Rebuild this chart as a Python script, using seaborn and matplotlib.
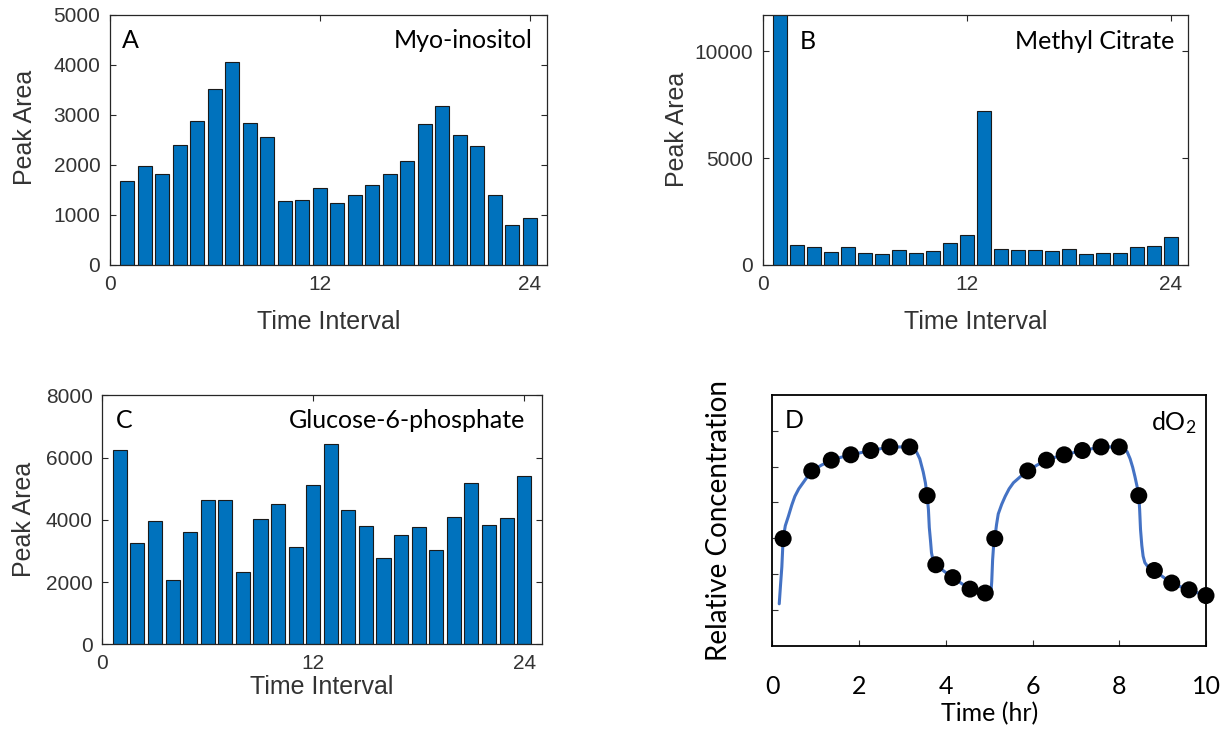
import numpy as np
import pandas as pd
import matplotlib
matplotlib.use("Agg")
import matplotlib.pyplot as plt
import seaborn as sns

sns.set_theme(style="white")
plt.rcParams['font.family'] = ['Liberation Sans', 'DejaVu Sans']
plt.rcParams['mathtext.fontset'] = 'custom'
plt.rcParams['mathtext.rm'] = 'Lato'
plt.rcParams['mathtext.default'] = 'rm'

# ---------------- data ----------------
intervals = list(range(1, 25))
myo_inositol = [1690, 1990, 1830, 2400, 2890, 3520, 4070, 2850, 2560, 1290,
                1310, 1550, 1240, 1400, 1600, 1820, 2090, 2830, 3180, 2600,
                2390, 1400, 810, 950]
methyl_citrate = [15000, 930, 855, 610, 820, 575, 530, 685, 575, 640,
                  1040, 1400, 7200, 760, 685, 685, 640, 760, 500, 575,
                  575, 855, 900, 1290]
glucose_6_phosphate = [6230, 3240, 3960, 2050, 3610, 4650, 4650, 2330, 4040, 4520,
                       3140, 5120, 6450, 4300, 3800, 2770, 3520, 3780, 3020, 4100,
                       5170, 3840, 4060, 5420]

do2_time = [0.25, 0.91, 1.36, 1.81, 2.27, 2.71, 3.17, 3.57, 3.77, 4.16, 4.56, 4.91,
            5.13, 5.89, 6.32, 6.73, 7.15, 7.58, 8.00, 8.45, 8.81, 9.21, 9.61, 10.0]
do2_value = [2.99, 4.88, 5.18, 5.33, 5.45, 5.55, 5.55, 4.19, 2.26, 1.90, 1.58, 1.47,
             2.99, 4.88, 5.18, 5.33, 5.45, 5.55, 5.55, 4.19, 2.10, 1.75, 1.56, 1.40]

curve_time = [0.16, 0.19, 0.22, 0.25, 0.30, 0.37, 0.45, 0.52, 0.61, 0.71, 0.81, 0.91,
              1.13, 1.36, 1.58, 1.81, 2.04, 2.27, 2.49, 2.71, 2.94, 3.17, 3.26, 3.33,
              3.40, 3.48, 3.53, 3.57, 3.60, 3.62, 3.65, 3.67, 3.70, 3.73, 3.77, 3.96,
              4.16, 4.36, 4.56, 4.74, 4.91, 5.04, 5.06, 5.08, 5.10, 5.13, 5.17, 5.21,
              5.29, 5.37, 5.46, 5.56, 5.72, 5.89, 6.10, 6.32, 6.52, 6.73, 6.94, 7.15,
              7.37, 7.58, 7.79, 8.00, 8.10, 8.18, 8.25, 8.31, 8.36, 8.41, 8.45, 8.47,
              8.49, 8.52, 8.55, 8.59, 8.65, 8.72, 8.81, 9.01, 9.21, 9.41, 9.61, 9.80,
              10.0]
curve_value = [1.17, 1.70, 2.20, 2.99, 3.35, 3.61, 3.93, 4.17, 4.38, 4.55, 4.72, 4.88,
               5.04, 5.18, 5.26, 5.33, 5.39, 5.45, 5.50, 5.54, 5.55, 5.55, 5.50, 5.40,
               5.22, 4.85, 4.55, 4.19, 3.80, 3.30, 2.90, 2.60, 2.42, 2.32, 2.26, 2.08,
               1.90, 1.74, 1.58, 1.52, 1.47, 1.45, 1.80, 2.40, 2.75, 2.99, 3.38, 3.68,
               3.95, 4.17, 4.38, 4.55, 4.72, 4.88, 5.04, 5.18, 5.26, 5.33, 5.39, 5.45,
               5.50, 5.54, 5.55, 5.55, 5.52, 5.42, 5.22, 4.98, 4.73, 4.45, 4.19, 3.80,
               3.25, 2.80, 2.50, 2.32, 2.22, 2.16, 2.10, 1.92, 1.75, 1.65, 1.56, 1.48,
               1.40]

bar_ticks = [0, 12, 24]
time_ticks = [0, 2, 4, 6, 8, 10]

BAR = "#0072BD"
TXT = "#333333"
EDGE = "#262626"

fig = plt.figure(figsize=(12.25, 7.29), dpi=100)
W, H = 1225, 729

def axes_px(l, t, r, b):
    return fig.add_axes([l / W, 1 - b / H, (r - l) / W, (b - t) / H])

axA = axes_px(110, 15, 547, 265)
axB = axes_px(763, 15, 1188, 265)
axC = axes_px(102.3, 395.3, 541.7, 644.3)
axD = axes_px(772.3, 395, 1206, 645.7)

def bar_panel(ax, values, ylim, yticks, letter, name, lx, nx, ty,
              xlab_xy, ylab_xy):
    df = pd.DataFrame({"interval": intervals, "area": values})
    sns.barplot(data=df, x="interval", y="area", native_scale=True, color=BAR,
                saturation=1, width=0.8, edgecolor="#1a1a1a", linewidth=0.8,
                ax=ax, errorbar=None)
    ax.set_xlim(0, 25)
    ax.set_ylim(*ylim)
    ax.set_xticks(bar_ticks)
    ax.set_yticks(yticks)
    ax.set_xticklabels([str(t) for t in bar_ticks])
    ax.tick_params(direction="in", length=4, width=0.8, colors=EDGE,
                   labelcolor=TXT, labelsize=15, top=True, right=True,
                   bottom=True, left=True, pad=7)
    for s in ax.spines.values():
        s.set_visible(True)
        s.set_color(EDGE)
        s.set_linewidth(0.9)
    ax.set_xlabel("Time Interval", fontsize=18, color=TXT)
    ax.set_ylabel("Peak Area", fontsize=18, color=TXT)
    ax.xaxis.set_label_coords(*xlab_xy)
    ax.yaxis.set_label_coords(*ylab_xy)
    ax.text(lx, ty, letter, transform=ax.transAxes, fontsize=18,
            family="Lato", color="black", ha="left", va="baseline")
    ax.text(nx, ty, name, transform=ax.transAxes, fontsize=18,
            family="Lato", color="black", ha="right", va="baseline")

bar_panel(axA, myo_inositol, (0, 5000), [0, 1000, 2000, 3000, 4000, 5000],
          "A", "Myo-inositol", 0.027, 0.967, 0.867,
          (0.5, -0.18), (-0.167, 0.552))
bar_panel(axB, methyl_citrate, (0, 11700), [0, 5000, 10000],
          "B", "Methyl Citrate", 0.087, 0.967, 0.863,
          (0.5, -0.18), (-0.174, 0.544))
bar_panel(axC, glucose_6_phosphate, (0, 8000), [0, 2000, 4000, 6000, 8000],
          "C", "Glucose-6-phosphate", 0.031, 0.962, 0.870,
          (0.5, -0.125), (-0.151, 0.5))

# ---------------- panel D ----------------
dfc = pd.DataFrame({"t": curve_time, "v": curve_value})
dfp = pd.DataFrame({"t": do2_time, "v": do2_value})
sns.lineplot(data=dfc, x="t", y="v", color="#4472C4", linewidth=2.2,
             sort=False, estimator=None, ax=axD)
sns.scatterplot(data=dfp, x="t", y="v", color="black", s=150,
                edgecolor="none", ax=axD, zorder=5, clip_on=False)
axD.set_xlim(0, 10)
axD.set_ylim(0, 7)
axD.set_xticks(time_ticks)
axD.set_yticks([1, 2, 3, 4, 5, 6])
axD.set_yticklabels([])
axD.tick_params(direction="in", length=4, width=0.8, colors="#333333",
                labelsize=18, bottom=True, left=True, top=False, right=False,
                pad=21)
for lab in axD.get_xticklabels():
    lab.set_family("Lato")
    lab.set_color("black")
for s in axD.spines.values():
    s.set_visible(True)
    s.set_color("black")
    s.set_linewidth(1.3)
axD.set_xlabel("Time (hr)", fontsize=18, family="Lato", color="black", labelpad=3)
axD.set_ylabel("Relative Concentration", fontsize=20, family="Lato",
               color="black", labelpad=8)
axD.text(0.029, 0.867, "D", transform=axD.transAxes, fontsize=18, family="Lato",
         color="black", ha="left", va="baseline")
axD.text(0.979, 0.86, "dO$_2$", transform=axD.transAxes, fontsize=18,
         family="Lato", color="black", ha="right", va="baseline")

fig.savefig("out.png", dpi=100)
